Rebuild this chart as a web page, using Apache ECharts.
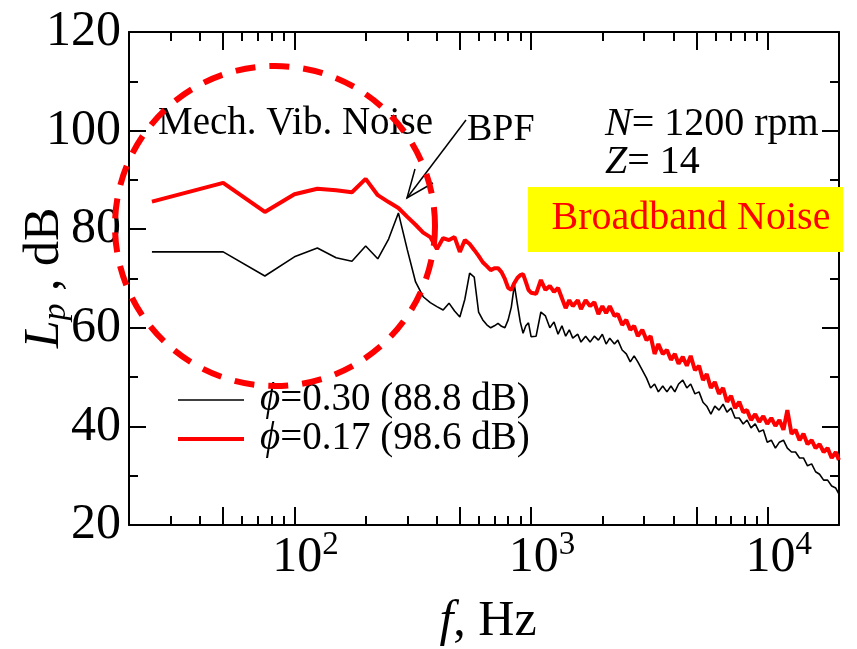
<!DOCTYPE html>
<html>
<head>
<meta charset="utf-8">
<script src="https://cdn.jsdelivr.net/npm/echarts@6/dist/echarts.min.js"></script>
<style>
  html, body { margin: 0; padding: 0; background: #fff; }
  #chart { width: 857px; height: 649px; }
</style>
</head>
<body>
<div id="chart"></div>
<script>
// frequency, Hz (25 Hz bins below 1 kHz, thinned above)
const freq = [
  25, 50, 75, 100, 125, 150, 175, 200, 225, 250, 275, 300, 325, 350, 375, 400, 425, 450, 475, 500,
  525, 550, 575, 600, 625, 650, 675, 700, 725, 750, 775, 800, 825, 850, 875, 900, 925, 950, 975, 1000,
  1050, 1100, 1150, 1200, 1250, 1300, 1350, 1400, 1450, 1500, 1575, 1625, 1700, 1775, 1850, 1925, 2000, 2075, 2150, 2250,
  2325, 2425, 2525, 2625, 2725, 2825, 2950, 3075, 3200, 3325, 3450, 3600, 3750, 3900, 4050, 4200, 4375, 4550, 4725, 4925,
  5125, 5325, 5525, 5750, 5975, 6225, 6475, 6725, 7000, 7275, 7575, 7875, 8175, 8500, 8850, 9200, 9575, 9950, 10350, 10775,
  11200, 11650, 12100, 12600, 13100, 13625, 14150, 14725, 15325, 15925, 16550, 17225, 17900, 18625, 19375, 19975
];
// Lp, dB  phi = 0.30 (black)
const lpPhi030 = [
  75.4, 75.4, 70.5, 74.4, 76.2, 74.2, 73.5, 76.6, 74.0, 78.0, 83.3, 75.8, 69.3, 66.3, 65.1, 64.3, 63.6, 65.0, 63.4, 62.2,
  65.8, 71.1, 70.3, 63.2, 61.6, 60.6, 60.0, 60.4, 60.9, 60.3, 60.0, 61.6, 64.2, 68.7, 64.8, 61.2, 58.9, 60.4, 61.0, 58.2,
  58.3, 63.2, 62.4, 60.0, 61.2, 58.7, 60.4, 58.3, 59.6, 57.9, 58.7, 57.1, 58.3, 57.1, 58.3, 57.5, 58.7, 56.7, 57.9, 56.7,
  57.5, 55.5, 54.7, 53.1, 54.3, 53.1, 51.4, 49.8, 47.8, 48.6, 47.0, 48.2, 47.0, 48.2, 47.0, 48.6, 49.4, 47.8, 48.6, 46.6,
  47.0, 44.9, 44.1, 42.5, 44.1, 43.3, 44.5, 42.9, 43.7, 41.7, 41.7, 40.5, 41.3, 39.7, 40.5, 38.9, 39.3, 36.8, 37.2, 35.6,
  36.8, 37.2, 35.6, 34.8, 34.8, 33.6, 33.6, 32.0, 32.4, 30.8, 30.3, 29.1, 29.1, 27.9, 27.5, 26.3
];
// Lp, dB  phi = 0.17 (red)
const lpPhi017 = [
  85.6, 89.4, 83.5, 87.1, 88.2, 87.9, 87.5, 90.2, 86.9, 85.5, 84.3, 82.5, 80.9, 79.3, 78.4, 76.0, 78.2, 77.8, 78.4, 75.4,
  77.8, 77.0, 75.8, 74.6, 73.3, 72.5, 71.7, 72.1, 72.1, 71.3, 69.9, 68.1, 67.7, 69.1, 70.1, 70.7, 70.9, 69.3, 67.7, 67.1,
  66.9, 69.7, 67.7, 68.5, 67.3, 68.1, 66.0, 64.0, 65.6, 64.4, 65.6, 63.8, 65.6, 64.4, 65.2, 62.8, 64.4, 63.0, 64.4, 62.4,
  62.8, 60.6, 61.6, 59.6, 60.4, 58.3, 59.6, 57.5, 58.3, 54.7, 56.7, 54.7, 55.5, 53.5, 54.7, 52.7, 54.1, 52.3, 54.3, 51.4,
  52.3, 49.4, 50.6, 47.8, 49.0, 46.6, 47.8, 45.0, 46.2, 43.7, 45.0, 42.9, 43.3, 41.3, 42.5, 40.9, 42.1, 40.5, 41.7, 40.1,
  41.3, 39.3, 43.3, 38.5, 39.3, 37.2, 38.5, 36.4, 37.2, 35.6, 36.4, 34.8, 35.6, 33.6, 34.8, 33.2
];

const seriesNames = ['ϕ=0.30 (88.8 dB)', 'ϕ=0.17 (98.6 dB)'];
const seriesColors = ['#000000', '#ff0000'];
const xLongTicks = [50, 500, 5000];
const xShortTicks = [30, 40, 60, 70, 80, 90, 200, 300, 400, 600, 700, 800, 900,
  2000, 3000, 4000, 6000, 7000, 8000, 9000];
const decadeLabels = [100, 1000, 10000];
const yShortTicks = [30, 50, 70, 90, 110];

const serif = '"Liberation Serif", "Times New Roman", serif';
const X_MIN = 20, X_MAX = 20000, Y_MIN = 20, Y_MAX = 120;
// plot is 710 px wide for 3 decades and 493 px high for 100 dB
const DB_PER_PX = (Y_MAX - Y_MIN) / 493;
const DEC_PER_PX = Math.log10(X_MAX / X_MIN) / 710;

function xAxisDef(position, labels) {
  return {
    type: 'log', logBase: 10, min: X_MIN, max: X_MAX, position: position,
    axisLine: { show: true, lineStyle: { color: '#000', width: 2 } },
    axisTick: { show: true, inside: true, length: 18, lineStyle: { color: '#000', width: 2 } },
    axisLabel: labels ? {
      show: true, customValues: decadeLabels, margin: 4, padding: [0, 0, 0, 22],
      formatter: v => '{b|10}{s|' + Math.round(Math.log10(v)) + '}',
      rich: {
        b: { fontFamily: serif, fontSize: 50, color: '#000' },
        s: { fontFamily: serif, fontSize: 33, color: '#000', verticalAlign: 'bottom', padding: [0, 0, 24, 0] }
      }
    } : { show: false },
    splitLine: { show: false }
  };
}

function yAxisDef(position, labels) {
  return {
    type: 'value', min: Y_MIN, max: Y_MAX, interval: 20, position: position,
    axisLine: { show: true, lineStyle: { color: '#000', width: 2 } },
    axisTick: { show: true, inside: true, length: 17, lineStyle: { color: '#000', width: 2 } },
    axisLabel: labels ? { show: true, fontFamily: serif, fontSize: 50, color: '#000', margin: 8 } : { show: false },
    splitLine: { show: false }
  };
}

// extra inside ticks as short mark lines in data coordinates (bottom+top, left+right)
function xTickPair(v, lenPx) {
  const d = lenPx * DB_PER_PX;
  return [
    [{ coord: [v, Y_MIN] }, { coord: [v, Y_MIN + d] }],
    [{ coord: [v, Y_MAX] }, { coord: [v, Y_MAX - d] }]
  ];
}
function yTickPair(v, lenPx) {
  const k = Math.pow(10, lenPx * DEC_PER_PX);
  return [
    [{ coord: [X_MIN, v] }, { coord: [X_MIN * k, v] }],
    [{ coord: [X_MAX, v] }, { coord: [X_MAX / k, v] }]
  ];
}
const tickMarks = [].concat(
  ...xLongTicks.map(v => xTickPair(v, 18)),
  ...xShortTicks.map(v => xTickPair(v, 9)),
  ...yShortTicks.map(v => yTickPair(v, 9))
);

const chart = echarts.init(document.getElementById('chart'), null, { renderer: 'canvas' });

// legend drawn by hand: short line + label
const legendItems = [];
seriesNames.forEach((name, i) => {
  const y = 400 + i * 39;
  legendItems.push({ type: 'line', z: 60, shape: { x1: 178, y1: y, x2: 244, y2: y },
    style: { stroke: seriesColors[i], lineWidth: i === 0 ? 1.6 : 4 } });
  legendItems.push({ type: 'text', z: 60, x: 260, y: y,
    style: { text: name.replace('ϕ', '{i|ϕ}'), fontFamily: serif, fontSize: 39, fill: '#000',
      align: 'left', verticalAlign: 'middle',
      rich: { i: { fontFamily: serif, fontSize: 39, fontStyle: 'italic', fill: '#000' } } } });
});

const notes = [
  { type: 'rect', z: 50, shape: { x: 528, y: 187, width: 315, height: 65 }, style: { fill: '#ffff00' } },
  { type: 'text', z: 60, x: 691, y: 218,
    style: { text: 'Broadband Noise', fontFamily: serif, fontSize: 40, fill: '#ff0000', align: 'center', verticalAlign: 'middle' } },
  { type: 'circle', z: 70, shape: { cx: 275, cy: 226, r: 160 },
    style: { fill: 'none', stroke: '#ff0000', lineWidth: 6, lineDash: [20, 14] } },
  { type: 'text', z: 60, x: 158, y: 124,
    style: { text: 'Mech. Vib. Noise', fontFamily: serif, fontSize: 39, fill: '#000', align: 'left', verticalAlign: 'middle' } },
  { type: 'text', z: 60, x: 467, y: 130,
    style: { text: 'BPF', fontFamily: serif, fontSize: 38, fill: '#000', align: 'left', verticalAlign: 'middle' } },
  { type: 'polyline', z: 60, shape: { points: [[466, 120], [407, 198]] },
    style: { stroke: '#000', lineWidth: 1.5, fill: null } },
  { type: 'polyline', z: 60, shape: { points: [[415, 169], [407, 198], [433, 183]] },
    style: { stroke: '#000', lineWidth: 1.5, fill: null } },
  { type: 'text', z: 60, x: 605, y: 124,
    style: { text: '{i|N}= 1200 rpm', fontFamily: serif, fontSize: 40, fill: '#000', align: 'left', verticalAlign: 'middle',
      rich: { i: { fontFamily: serif, fontSize: 40, fontStyle: 'italic', fill: '#000' } } } },
  { type: 'text', z: 60, x: 605, y: 162,
    style: { text: '{i|Z}= 14', fontFamily: serif, fontSize: 40, fill: '#000', align: 'left', verticalAlign: 'middle',
      rich: { i: { fontFamily: serif, fontSize: 40, fontStyle: 'italic', fill: '#000' } } } },
  { type: 'text', z: 60, x: 45, y: 278, rotation: Math.PI / 2,
    style: { text: '{i|L}{s|p} , dB', fontFamily: serif, fontSize: 50, fill: '#000', align: 'center', verticalAlign: 'middle',
      rich: {
        i: { fontFamily: serif, fontSize: 50, fontStyle: 'italic', fill: '#000' },
        s: { fontFamily: serif, fontSize: 34, fontStyle: 'italic', fill: '#000', verticalAlign: 'top', padding: [22, 0, 0, 0] }
      } } },
  { type: 'text', z: 60, x: 488, y: 622,
    style: { text: '{i|f}, Hz', fontFamily: serif, fontSize: 50, fill: '#000', align: 'center', verticalAlign: 'middle',
      rich: { i: { fontFamily: serif, fontSize: 50, fontStyle: 'italic', fill: '#000' } } } }
];

chart.setOption({
  animation: false,
  backgroundColor: '#fff',
  grid: { left: 129, top: 32, right: 18, bottom: 124, containLabel: false, outerBoundsMode: 'none' },
  xAxis: [xAxisDef('bottom', true), xAxisDef('top', false)],
  yAxis: [yAxisDef('left', true), yAxisDef('right', false)],
  series: [
    {
      name: seriesNames[0], type: 'line', xAxisIndex: 0, yAxisIndex: 0,
      data: freq.map((f, i) => [f, lpPhi030[i]]),
      symbol: 'none', lineStyle: { color: seriesColors[0], width: 1.6 },
      markLine: {
        silent: true, animation: false, symbol: ['none', 'none'], precision: 6,
        label: { show: false },
        lineStyle: { type: 'solid', color: '#000', width: 2, opacity: 1 },
        emphasis: { disabled: true },
        data: tickMarks
      }
    },
    {
      name: seriesNames[1], type: 'line', xAxisIndex: 0, yAxisIndex: 0,
      data: freq.map((f, i) => [f, lpPhi017[i]]),
      symbol: 'none', lineStyle: { color: seriesColors[1], width: 4 }
    }
  ],
  graphic: notes.concat(legendItems)
});
</script>
</body>
</html>
